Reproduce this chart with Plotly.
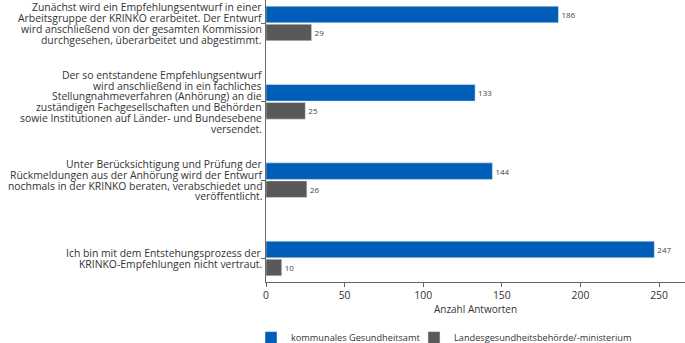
import plotly.graph_objects as go

categories = [
    "Zunächst wird ein Empfehlungsentwurf in einer<br>Arbeitsgruppe der KRINKO erarbeitet. Der Entwurf<br>wird anschließend von der gesamten Kommission<br>durchgesehen, überarbeitet und abgestimmt.",
    "Der so entstandene Empfehlungsentwurf<br>wird anschließend in ein fachliches<br>Stellungnahmeverfahren (Anhörung) an die<br>zuständigen Fachgesellschaften und Behörden<br>sowie Institutionen auf Länder- und Bundesebene<br>versendet.",
    "Unter Berücksichtigung und Prüfung der<br>Rückmeldungen aus der Anhörung wird der Entwurf<br>nochmals in der KRINKO beraten, verabschiedet und<br>veröffentlicht.",
    "Ich bin mit dem Entstehungsprozess der<br>KRINKO-Empfehlungen nicht vertraut.",
]
series_names = ["kommunales Gesundheitsamt", "Landesgesundheitsbehörde/-ministerium"]
kommunal = [186, 133, 144, 247]
landes = [29, 25, 26, 10]
x_ticks = [0, 50, 100, 150, 200, 250]
colors = ["#005EB8", "#595959"]

FONT = "Open Sans"
TEXT_COLOR = "#333"
LINE_SPACING = 10.8

fig = go.Figure()
for k, (name, vals, col) in enumerate(zip(series_names, [kommunal, landes], colors)):
    fig.add_trace(go.Bar(
        y=categories, x=vals, orientation="h", name=name,
        marker=dict(color=col, line=dict(color="#e8e8e8", width=0.5)),
        text=[str(v) for v in vals], textposition="outside",
        textfont=dict(size=8, color="#444"), cliponaxis=False,
        legend="legend" if k == 0 else "legend2",
    ))

# category labels, one text line per annotation for tight line spacing
for i, cat in enumerate(categories):
    lines = cat.split("<br>")
    n = len(lines)
    for j, line in enumerate(lines):
        fig.add_annotation(
            x=0, xref="paper", y=cat, yref="y",
            xanchor="right", yanchor="middle", xshift=-3,
            yshift=((n - 1) / 2 - j) * LINE_SPACING,
            text=line, showarrow=False, align="right", borderpad=0,
            font=dict(family=FONT, size=10.4, color=TEXT_COLOR),
        )

legend_common = dict(orientation="h", xanchor="left", yref="container", xref="container",
                     y=0.058, yanchor="top", bgcolor="rgba(0,0,0,0)",
                     font=dict(size=9.2, color=TEXT_COLOR))

fig.update_layout(
    width=685, height=343,
    margin=dict(l=266, r=0, t=0, b=61),
    paper_bgcolor="white", plot_bgcolor="white",
    font=dict(family=FONT, size=10.4, color=TEXT_COLOR),
    barmode="group", bargap=0.54, bargroupgap=0.08,
    showlegend=True,
    legend=dict(x=251 / 685, **legend_common),
    legend2=dict(x=414 / 685, **legend_common),
    xaxis=dict(range=[0, 266.5], showgrid=False, zeroline=False, automargin=False,
               showline=True, linecolor="#666", linewidth=1,
               ticks="outside", ticklen=4, tickcolor="#666",
               tickvals=x_ticks,
               title=dict(text="Anzahl Antworten", font=dict(size=10), standoff=2),
               tickfont=dict(size=10.4)),
    yaxis=dict(autorange=False, range=[3.3, -0.3], showgrid=False, zeroline=False, automargin=False,
               showline=True, linecolor="#666", linewidth=1,
               ticks="outside", ticklen=4, tickcolor="#666",
               showticklabels=False),
)

fig.write_html("out.html")
